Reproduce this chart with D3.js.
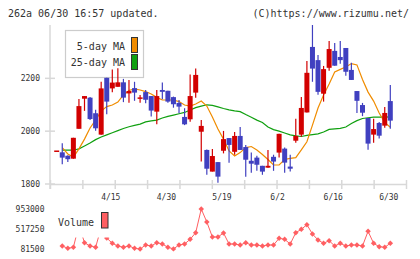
<!DOCTYPE html>
<html>
<head>
<meta charset="utf-8">
<script src="https://cdn.jsdelivr.net/npm/d3@7"></script>
<style>
  body { margin: 0; background: #fff; }
  text { font-family: "DejaVu Sans Mono", monospace; fill: #333; }
</style>
</head>
<body>
<div id="chart"></div>
<script>
// price data, one entry per trading day (first day has no MA / volume)
const open  = [1925,1918,1905,1894,2007,2121,2125,2066,1985,2200,2160,2166,2183,2141,2161,2126,2146,2131,2072,2154,2151,2127,2105,2052,2043,2144,1996,1927,1845,1881,1924,1972,1920,1980,1938,1886,1898,1867,1860,1901,1917,1932,1864,1962,1985,2069,2317,2267,2140,2238,2302,2279,2313,2230,2150,2097,2048,1985,2029,2019,2112];
const high  = [1925,1952,1907,1973,2120,2131,2127,2079,2185,2200,2232,2236,2196,2192,2185,2135,2154,2131,2154,2182,2151,2129,2116,2085,2213,2235,2040,1929,1931,1881,1999,1972,1995,2014,1946,1917,1905,1867,1927,1909,1988,1936,1909,2045,2127,2264,2400,2286,2245,2339,2332,2339,2313,2257,2150,2105,2048,2045,2033,2090,2173];
const low   = [1925,1873,1881,1894,2007,2075,2040,2000,1985,2062,2145,2166,2108,2106,2113,2106,2104,2054,2024,2119,2106,2087,2066,2021,2034,2125,1883,1833,1845,1803,1914,1879,1909,1927,1826,1841,1848,1833,1860,1848,1898,1841,1845,1954,1977,2069,2185,2136,2110,2227,2246,2253,2208,2192,2067,2055,1928,1954,1970,2011,2007];
const close = [1925,1898,1892,1973,2093,2131,2044,2009,2160,2110,2182,2183,2125,2150,2144,2126,2117,2076,2131,2147,2110,2100,2091,2024,2131,2211,2018,1856,1904,1826,1968,1946,1980,1927,1890,1875,1871,1845,1867,1883,1988,1879,1856,1980,2086,2219,2235,2147,2233,2309,2246,2267,2223,2192,2113,2068,1951,2006,1981,2067,2038];

const ma5  = [null,1936,1912,1900,1931,1968,2010,2040,2074,2091,2097,2108,2135,2152,2158,2154,2148,2139,2126,2116,2116,2116,2110,2097,2093,2101,2112,2093,2052,2006,1968,1923,1904,1917,1936,1940,1927,1910,1891,1870,1870,1891,1895,1898,1927,1958,2021,2086,2135,2177,2222,2232,2241,2254,2249,2194,2146,2112,2067,2031,2013];
const ma25 = [null,1926,1926,1926,1931,1942,1953,1966,1976,1984,1992,2000,2008,2015,2020,2025,2033,2037,2040,2048,2054,2059,2064,2069,2078,2087,2093,2098,2096,2090,2084,2079,2075,2072,2061,2051,2040,2031,2014,2004,1998,1991,1984,1980,1978,1982,1985,1988,1995,2005,2007,2009,2014,2027,2038,2046,2049,2051,2051,2051,2052];

const volume = [null,147000,96800,118500,600000,218800,147000,118500,550000,321000,205700,147000,118500,147000,96800,81500,168600,147000,218800,190400,118500,84000,168600,190400,292800,436600,953000,669800,343000,343000,430000,190400,190000,168600,218800,168600,168600,147000,168600,168600,314600,292800,190400,436600,510700,611000,408300,277600,205700,262300,147000,205700,147000,168600,168600,147000,467000,205700,131600,118500,205700];

const priceTicks = [1800, 2000, 2200];
const volTicks = [81500, 517250, 953000];
const dateLabels = ["4/15", "4/30", "5/19", "6/2", "6/16", "6/30"];
const dateLabelIdx = [10, 20, 30, 40, 50, 60];

const width = 420, height = 259;
const up = "#d20000", down = "#4040c0";

const svg = d3.select("#chart").append("svg")
    .attr("width", width)
    .attr("height", height);

// header texts
svg.append("text").attr("x", 8).attr("y", 17).style("font-size", "10px")
    .text("262a 06/30 16:57 updated.");
svg.append("text").attr("x", 409).attr("y", 17).attr("text-anchor", "end").style("font-size", "10px")
    .text("(C)https://www.rizumu.net/");

// scales
const days = d3.range(open.length);
const x = d3.scaleLinear().domain([0, days.length - 1]).range([56.7, 390.3]);
const y = d3.scaleLinear().domain([1800, 2400]).range([183.5, 25]);
const vy = d3.scaleLinear().domain([81500, 953000]).range([249, 209]);
const grid = d3.scaleLinear().domain([0, 11]).range([50, 406]);

// axes ---------------------------------
const axisColor = "#d8d8d8";

const xAxisG = svg.append("g")
    .attr("transform", "translate(0,184)")
    .call(d3.axisBottom(grid).tickValues(d3.range(12)).tickFormat("").tickSizeOuter(0));
xAxisG.selectAll("line").attr("y1", -4).attr("y2", 5);

const yAxisG = svg.append("g")
    .attr("transform", "translate(50,0)")
    .call(d3.axisLeft(y).tickValues(priceTicks).tickFormat(d3.format("d")).tickSizeOuter(0));
yAxisG.selectAll(".tick line").attr("x1", 5).attr("x2", -5);
yAxisG.selectAll(".tick text").attr("x", -10).attr("dy", "0.35em");
yAxisG.select(".domain").attr("d", "M0,25V189");

[xAxisG, yAxisG].forEach(g => {
    g.selectAll("line, path").attr("stroke", axisColor).attr("stroke-width", 1.5);
    g.selectAll("text").style("font-size", "8px").attr("fill", "#333")
        .style("font-family", "'DejaVu Sans Mono', monospace");
});

// date labels
svg.append("g").selectAll("text")
    .data(dateLabelIdx)
    .enter()
    .append("text")
    .attr("x", d => x(d) - 1.5)
    .attr("y", 200)
    .attr("text-anchor", "middle")
    .style("font-size", "8px")
    .text((d, i) => dateLabels[i]);

// price legend box (candles drawn over it)
const leg = svg.append("g");
leg.append("rect").attr("x", 65.5).attr("y", 30.5).attr("width", 78).attr("height", 47)
    .attr("fill", "#fff").attr("stroke", "#ccc").attr("stroke-width", 1.2);
leg.append("text").attr("x", 125).attr("y", 49.5).attr("text-anchor", "end")
    .style("font-size", "10px").text("5-day MA");
leg.append("text").attr("x", 125).attr("y", 66).attr("text-anchor", "end")
    .style("font-size", "10px").text("25-day MA");
leg.append("rect").attr("x", 131.5).attr("y", 37.5).attr("width", 6).attr("height", 15)
    .attr("fill", "#f08c00").attr("stroke", "#333");
leg.append("rect").attr("x", 131.5).attr("y", 54.5).attr("width", 6).attr("height", 15)
    .attr("fill", "#10a010").attr("stroke", "#333");

// moving averages
const maLine = arr => d3.line()
    .defined(i => arr[i] != null)
    .x(i => x(i))
    .y(i => y(arr[i]));

svg.append("path").datum(days).attr("d", maLine(ma25))
    .attr("fill", "none").attr("stroke", "#10a010").attr("stroke-width", 1.2);
svg.append("path").datum(days).attr("d", maLine(ma5))
    .attr("fill", "none").attr("stroke", "#f08c00").attr("stroke-width", 1.2);

// candles
const candleG = svg.append("g").selectAll("g")
    .data(days)
    .enter()
    .append("g");

candleG.append("line")
    .attr("x1", i => x(i))
    .attr("x2", i => x(i))
    .attr("y1", i => y(high[i]))
    .attr("y2", i => y(low[i]))
    .attr("stroke", i => close[i] >= open[i] ? up : down)
    .attr("stroke-width", 1.2);

candleG.append("rect")
    .attr("x", i => x(i) - 2.5)
    .attr("width", 5)
    .attr("y", i => y(Math.max(open[i], close[i])))
    .attr("height", i => Math.max(1.5, y(Math.min(open[i], close[i])) - y(Math.max(open[i], close[i]))))
    .attr("fill", i => close[i] >= open[i] ? up : down);

// volume panel -----------------------------------------
const volColor = "#ff5f62";
const volLine = d3.line()
    .defined(i => volume[i] != null)
    .x(i => x(i))
    .y(i => vy(volume[i]));

svg.append("path").datum(days).attr("d", volLine)
    .attr("fill", "none").attr("stroke", volColor).attr("stroke-width", 1);

svg.append("g").selectAll("path")
    .data(days.filter(i => volume[i] != null))
    .enter()
    .append("path")
    .attr("d", d3.symbol(d3.symbolSquare, 15))
    .attr("transform", i => `translate(${x(i)},${vy(volume[i])}) rotate(45)`)
    .attr("fill", volColor);

svg.append("g").selectAll("text")
    .data(volTicks)
    .enter()
    .append("text")
    .attr("x", 44.5)
    .attr("y", d => vy(d))
    .attr("dy", "0.35em")
    .attr("text-anchor", "end")
    .style("font-size", "8px")
    .text(d => d);

// volume legend (covers the line behind it)
svg.append("rect").attr("x", 56).attr("y", 209).attr("width", 56).attr("height", 28.5).attr("fill", "#fff");
svg.append("text").attr("x", 58).attr("y", 226).style("font-size", "10px").text("Volume");
svg.append("rect").attr("x", 101.5).attr("y", 212.5).attr("width", 6.5).attr("height", 15.5)
    .attr("fill", volColor).attr("stroke", "#333");
</script>
</body>
</html>
